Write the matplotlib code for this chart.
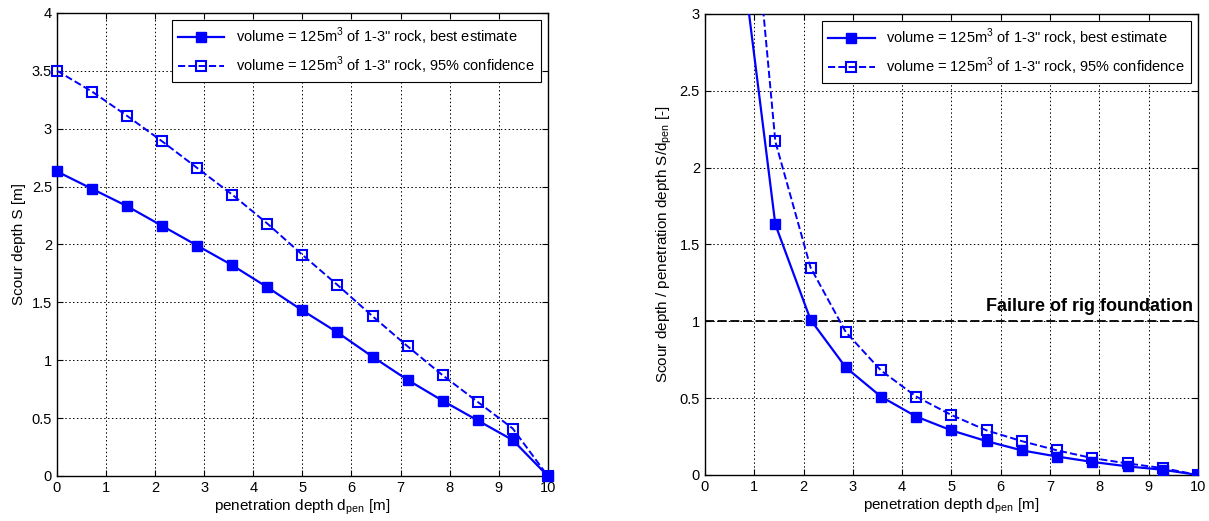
import matplotlib.pyplot as plt
import numpy as np

plt.rcParams['font.family'] = ['Liberation Sans', 'DejaVu Sans']
plt.rcParams['font.size'] = 10.5
plt.rcParams['mathtext.fontset'] = 'custom'
plt.rcParams['mathtext.rm'] = 'Liberation Sans'

# penetration depth [m]
d_pen = [0, 0.714, 1.429, 2.143, 2.857, 3.571, 4.286, 5.0, 5.714, 6.429,
         7.143, 7.857, 8.571, 9.286, 10.0]

# scour depth S [m]
S_best = [2.63, 2.48, 2.33, 2.16, 1.99, 1.82, 1.63, 1.43, 1.24, 1.03,
          0.83, 0.65, 0.48, 0.31, 0.0]
S_conf = [3.50, 3.32, 3.11, 2.89, 2.66, 2.43, 2.18, 1.91, 1.65, 1.38,
          1.12, 0.87, 0.64, 0.41, 0.0]

# S / d_pen [-] (x = 0 left out)
d_ratio = d_pen[1:]
R_best = [3.47, 1.63, 1.01, 0.70, 0.51, 0.38, 0.29, 0.22, 0.16,
          0.12, 0.085, 0.056, 0.034, 0.0]
R_conf = [4.65, 2.17, 1.35, 0.93, 0.68, 0.51, 0.39, 0.29, 0.22,
          0.16, 0.11, 0.075, 0.045, 0.0]

lbl_best = 'volume = 125m$^3$ of 1-3" rock, best estimate'
lbl_conf = 'volume = 125m$^3$ of 1-3" rock, 95% confidence'
blue = '#0000ff'

fig = plt.figure(figsize=(12.09, 5.21), dpi=100)
ax1 = fig.add_axes([0.0471, 0.0864, 0.406, 0.889])
ax2 = fig.add_axes([0.583, 0.0883, 0.408, 0.885])


def style(ax, ymax, ystep):
    ax.set_xlim(0, 10)
    ax.set_ylim(0, ymax)
    ax.set_xticks(np.arange(0, 11, 1))
    ax.set_yticks(np.arange(0, ymax + 0.01, ystep))
    ax.set_yticklabels(['%g' % v for v in np.arange(0, ymax + 0.01, ystep)])
    ax.grid(True, color='black', linestyle=(0, (1.5, 2.5)), linewidth=0.7)
    ax.tick_params(direction='in', top=True, right=True, length=4, width=0.8,
                   labelsize=10.5)
    for s in ax.spines.values():
        s.set_linewidth(1.0)
    ax.set_xlabel('penetration depth d$_{\\rm pen}$ [m]', labelpad=2, fontsize=11)


# left: scour depth
ax1.plot(d_pen, S_best, '-s', color=blue, lw=1.6, ms=7.5, mfc=blue, label=lbl_best,
         clip_on=False, zorder=3)
ax1.plot(d_pen, S_conf, '--s', color=blue, lw=1.4, ms=7, mfc='none', mew=1.5,
         label=lbl_conf, clip_on=False, zorder=3)
style(ax1, 4, 0.5)
ax1.set_ylabel('Scour depth S [m]', labelpad=4, fontsize=11)
leg = ax1.legend(loc='upper right', fancybox=False, edgecolor='black',
                 framealpha=1, handlelength=3.2, borderaxespad=0.5, fontsize=10.5)
leg.get_frame().set_linewidth(0.8)

# right: normalised scour depth
ax2.plot(d_ratio, R_best, '-s', color=blue, lw=1.6, ms=7.5, mfc=blue, label=lbl_best,
         zorder=3)
ax2.plot(d_ratio, R_conf, '--s', color=blue, lw=1.4, ms=7, mfc='none', mew=1.5,
         label=lbl_conf, zorder=3)
ax2.axhline(1.0, color='black', linestyle=(0, (5, 2)), lw=1.3, zorder=2)
ax2.text(9.9, 1.04, 'Failure of rig foundation', ha='right', va='bottom',
         fontsize=13, fontweight='bold')
style(ax2, 3, 0.5)
ax2.set_ylabel('Scour depth / penetration depth S/d$_{\\rm pen}$ [-]', labelpad=4,
               fontsize=11)
leg = ax2.legend(loc='upper right', fancybox=False, edgecolor='black',
                 framealpha=1, handlelength=3.2, borderaxespad=0.5, fontsize=10.5)
leg.get_frame().set_linewidth(0.8)

fig.savefig('out.png', dpi=100)
